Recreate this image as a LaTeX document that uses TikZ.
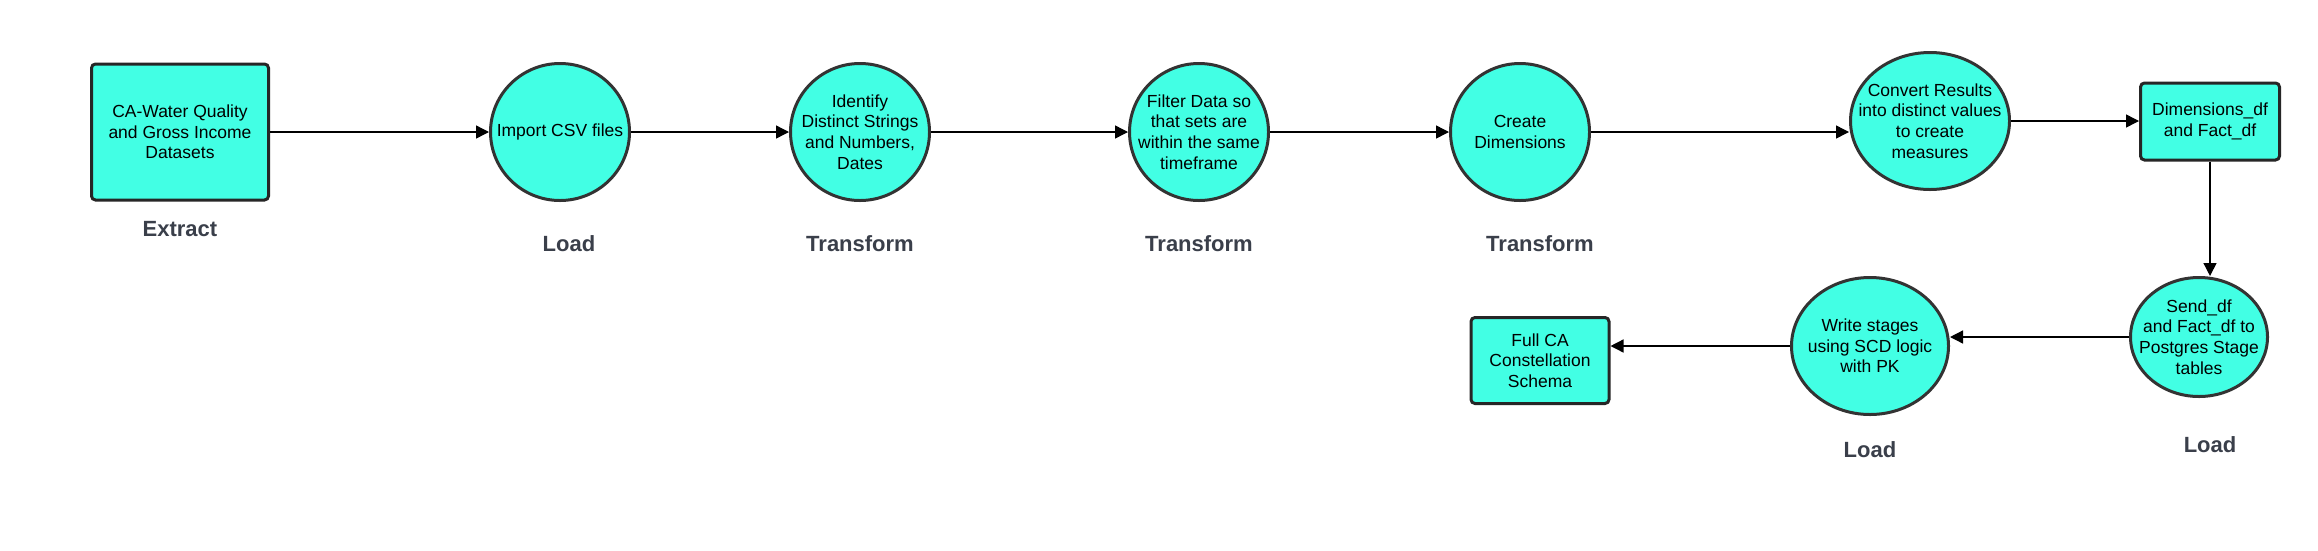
\documentclass[tikz,border=0pt]{standalone}
\usepackage{fontspec}
\setmainfont{Liberation Sans}
\usetikzlibrary{shapes.geometric,arrows.meta}
\definecolor{aqua}{HTML}{42FFE4}
\definecolor{edge}{HTML}{333333}
\definecolor{lab}{HTML}{3A3F4A}
\tikzset{
  proc/.style={ellipse, draw=edge, line width=3pt, fill=aqua, inner sep=-40pt, align=center,
     font=\fontsize{17.5}{20.7}\selectfont},
  databox/.style={rectangle, draw=black!85, line width=3pt, fill=aqua, rounded corners=4pt, inner sep=0pt, align=center,
     font=\fontsize{17.5}{20.7}\selectfont},
  stage/.style={font=\fontsize{22}{26}\selectfont\bfseries, text=lab},
  flow/.style={line width=1.4pt, -{Triangle[length=13pt,width=13pt]}}
}
\begin{document}
\begin{tikzpicture}[x=1pt,y=-1pt]
\useasboundingbox (0,0) rectangle (2318,550);
\fill[white] (0,0) rectangle (2318,550);
% nodes
\node[databox, minimum width=177pt, minimum height=136pt] (extract) at (180,132) {CA-Water Quality\\and Gross Income\\Datasets};
\node[proc, minimum width=139pt, minimum height=137pt] (import) at (560,132) {Import CSV files};
\node[proc, minimum width=139pt, minimum height=137pt] (identify) at (860,132) {Identify\\Distinct Strings\\and Numbers,\\Dates};
\node[proc, minimum width=139pt, minimum height=137pt] (filter) at (1199,132) {Filter Data so\\that sets are\\within the same\\timeframe};
\node[proc, minimum width=139pt, minimum height=137pt] (create) at (1520,132) {Create\\Dimensions};
\node[proc, minimum width=159pt, minimum height=137pt] (convert) at (1930,121) {Convert Results\\into distinct values\\to create\\measures};
\node[databox, minimum width=139pt, minimum height=77pt] (dims) at (2210,121.5) {Dimensions\_df\\and Fact\_df};
\node[proc, minimum width=137pt, minimum height=119pt] (send) at (2199,337) {Send\_df\\and Fact\_df to\\Postgres Stage\\tables};
\node[proc, minimum width=157pt, minimum height=137pt] (write) at (1870,346) {Write stages\\using SCD logic\\with PK};
\node[databox, minimum width=138pt, minimum height=86pt] (full) at (1540,360.5) {Full CA\\Constellation\\Schema};
% stage labels
\node[stage] (l1) at (180,229) {Extract};
\node[stage] (l2) at (569,244) {Load};
\node[stage] (l3) at (860,244) {Transform};
\node[stage] (l4) at (1199,244) {Transform};
\node[stage] (l5) at (1540,244) {Transform};
\node[stage] (l6) at (1870,450) {Load};
\node[stage] (l7) at (2210,445) {Load};
% connectors
\draw[flow] (extract.east) -- (import.west);
\draw[flow] (import.east) -- (identify.west);
\draw[flow] (identify.east) -- (filter.west);
\draw[flow] (filter.east) -- (create.west);
\draw[flow] (create.east) -- (create.east -| convert.west);
\draw[flow] (convert.east) -- (convert.east -| dims.west);
\draw[flow] (dims.south) -- (dims.south |- send.north);
\draw[flow] (send.west) -- (send.west -| write.east);
\draw[flow] (write.west) -- (write.west -| full.east);
\end{tikzpicture}
\end{document}
